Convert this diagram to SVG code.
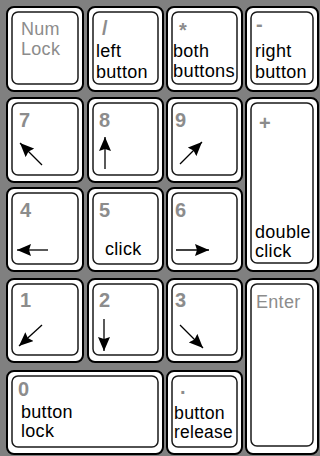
<svg xmlns="http://www.w3.org/2000/svg" width="320" height="456" viewBox="0 0 320 456">
<defs>
<style>
.o{fill:#fff;stroke:#000;stroke-width:2}
.i{fill:#fff;stroke:#1a1a1a;stroke-width:1.5}
.g{font-family:"Liberation Sans",Arial,sans-serif;font-size:18px;fill:#8c8c8c;letter-spacing:0.3px}
.d{font-family:"Liberation Sans",Arial,sans-serif;font-size:20px;font-weight:bold;fill:#8c8c8c}
.t{font-family:"Liberation Sans",Arial,sans-serif;font-size:18px;fill:#000;letter-spacing:0.3px}
.a{stroke:#000;stroke-width:1.3;fill:none;marker-end:url(#ah)}
</style>
<marker id="ah" markerUnits="userSpaceOnUse" markerWidth="16" markerHeight="13" refX="14" refY="6" orient="auto">
<path d="M0,0 L14,6 L0,12 L2,6 Z" fill="#000"/>
</marker>
</defs>
<rect width="320" height="456" fill="#808080"/>
<g id="key-numlock">
<rect class="o" x="7" y="7" width="76" height="84" rx="7"/>
<rect class="i" x="12" y="12" width="66" height="72" rx="6"/>
<text class="g" x="21" y="35">Num</text>
<text class="g" x="21" y="55">Lock</text>
</g>
<g id="key-slash">
<rect class="o" x="88" y="7" width="75" height="84" rx="7"/>
<rect class="i" x="93" y="12" width="65" height="72" rx="6"/>
<text class="d" x="102" y="35">/</text>
<text class="t" x="96" y="57">left</text>
<text class="t" x="96" y="78">button</text>
</g>
<g id="key-star">
<rect class="o" x="167" y="7" width="75" height="84" rx="7"/>
<rect class="i" x="172" y="12" width="65" height="72" rx="6"/>
<text class="d" x="179" y="37">*</text>
<text class="t" x="173" y="57">both</text>
<text class="t" x="173" y="77" textLength="62" lengthAdjust="spacingAndGlyphs">buttons</text>
</g>
<g id="key-minus">
<rect class="o" x="246" y="7" width="72" height="84" rx="7"/>
<rect class="i" x="251" y="12" width="62" height="72" rx="6"/>
<text class="d" x="256" y="31">-</text>
<text class="t" x="255" y="57">right</text>
<text class="t" x="255" y="78">button</text>
</g>
<g id="key-7">
<rect class="o" x="7" y="98" width="76" height="84" rx="7"/>
<rect class="i" x="12" y="103" width="66" height="72" rx="6"/>
<text class="d" x="19" y="127">7</text>
<line class="a" x1="42" y1="165" x2="20" y2="143"/>
</g>
<g id="key-8">
<rect class="o" x="88" y="98" width="75" height="84" rx="7"/>
<rect class="i" x="93" y="103" width="65" height="72" rx="6"/>
<text class="d" x="99" y="127">8</text>
<line class="a" x1="105" y1="169" x2="105" y2="137"/>
</g>
<g id="key-9">
<rect class="o" x="167" y="98" width="75" height="84" rx="7"/>
<rect class="i" x="172" y="103" width="65" height="72" rx="6"/>
<text class="d" x="175" y="127">9</text>
<line class="a" x1="180" y1="164" x2="202" y2="142"/>
</g>
<g id="key-plus">
<rect class="o" x="246" y="98" width="72" height="173" rx="7"/>
<rect class="i" x="251" y="103" width="62" height="160" rx="6"/>
<text class="d" x="259" y="130">+</text>
<text class="t" x="255" y="238">double</text>
<text class="t" x="255" y="257">click</text>
</g>
<g id="key-4">
<rect class="o" x="7" y="188" width="76" height="83" rx="7"/>
<rect class="i" x="12" y="193" width="66" height="71" rx="6"/>
<text class="d" x="20" y="217">4</text>
<line class="a" x1="48" y1="250" x2="17" y2="250"/>
</g>
<g id="key-5">
<rect class="o" x="88" y="188" width="75" height="83" rx="7"/>
<rect class="i" x="93" y="193" width="65" height="71" rx="6"/>
<text class="d" x="99" y="217">5</text>
<text class="t" x="105" y="255">click</text>
</g>
<g id="key-6">
<rect class="o" x="167" y="188" width="75" height="83" rx="7"/>
<rect class="i" x="172" y="193" width="65" height="71" rx="6"/>
<text class="d" x="175" y="217">6</text>
<line class="a" x1="176" y1="250" x2="209" y2="250"/>
</g>
<g id="key-1">
<rect class="o" x="7" y="279" width="76" height="83" rx="7"/>
<rect class="i" x="12" y="284" width="66" height="71" rx="6"/>
<text class="d" x="20" y="307">1</text>
<line class="a" x1="42" y1="325" x2="19" y2="346"/>
</g>
<g id="key-2">
<rect class="o" x="88" y="279" width="75" height="83" rx="7"/>
<rect class="i" x="93" y="284" width="65" height="71" rx="6"/>
<text class="d" x="99" y="307">2</text>
<line class="a" x1="104" y1="319" x2="104" y2="351"/>
</g>
<g id="key-3">
<rect class="o" x="167" y="279" width="75" height="83" rx="7"/>
<rect class="i" x="172" y="284" width="65" height="71" rx="6"/>
<text class="d" x="175" y="307">3</text>
<line class="a" x1="180" y1="325" x2="203" y2="348"/>
</g>
<g id="key-enter">
<rect class="o" x="246" y="279" width="72" height="175" rx="7"/>
<rect class="i" x="251" y="284" width="62" height="162" rx="6"/>
<text class="g" x="256" y="308">Enter</text>
</g>
<g id="key-0">
<rect class="o" x="7" y="371" width="156" height="83" rx="7"/>
<rect class="i" x="12" y="376" width="146" height="71" rx="6"/>
<text class="d" x="18" y="396">0</text>
<text class="t" x="21" y="418">button</text>
<text class="t" x="21" y="437">lock</text>
</g>
<g id="key-dot">
<rect class="o" x="167" y="371" width="75" height="83" rx="7"/>
<rect class="i" x="172" y="376" width="65" height="71" rx="6"/>
<text class="d" x="180" y="394">.</text>
<text class="t" x="174" y="419" textLength="51" lengthAdjust="spacingAndGlyphs">button</text>
<text class="t" x="174" y="438" textLength="59" lengthAdjust="spacingAndGlyphs">release</text>
</g>
</svg>
